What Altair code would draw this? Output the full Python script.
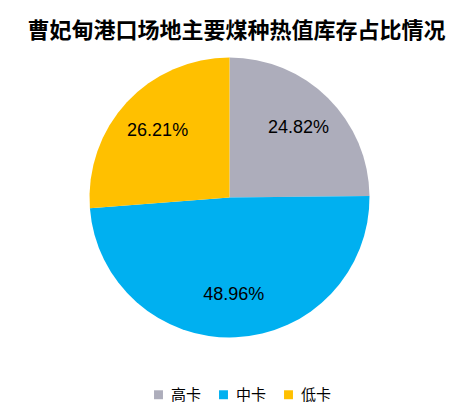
import altair as alt
import pandas as pd

categories = ["高卡", "中卡", "低卡"]
shares = [24.82, 48.96, 26.21]
colors = ["#ADADBB", "#00B0F0", "#FFC000"]
order_idx = [0, 1, 2]

df = pd.DataFrame({"cat": categories, "share": shares, "idx": order_idx})
df["label"] = [f"{v:.2f}%" for v in shares]

base = alt.Chart(df).encode(
    theta=alt.Theta("share:Q", stack=True),
    order=alt.Order("idx:Q"),
)

pie = base.mark_arc(outerRadius=140, stroke=None).encode(
    color=alt.Color(
        "cat:N",
        scale=alt.Scale(domain=categories, range=colors),
        sort=categories,
        legend=alt.Legend(
            title=None,
            orient="none",
            direction="horizontal",
            legendX=143,
            legendY=335,
            symbolType="square",
            symbolSize=80,
            symbolStrokeWidth=0,
            labelFontSize=15,
            labelFont="Noto Sans CJK SC",
            labelColor="#000000",
            labelOffset=5,
            columnPadding=14,
            padding=0,
        ),
    )
)

text = base.mark_text(
    radius=98,
    fontSize=18,
    font="Liberation Sans",
    color="#000000",
    align="center",
    baseline="middle",
).encode(text="label:N")

chart = (
    alt.layer(pie, text)
    .properties(
        width=443,
        height=291,
        autosize=alt.AutoSizeParams(type="none"),
        padding={"left": 0, "right": 0, "top": 44, "bottom": 60},
        title=alt.Title(
            "曹妃甸港口场地主要煤种热值库存占比情况",
            font="Noto Sans CJK SC",
            fontSize=22,
            fontWeight="bold",
            color="#000000",
            anchor="middle",
            offset=9,
            dx=7,
        ),
    )
    .configure_view(stroke=None)
    .configure(background="#ffffff")
)

chart.save("out.html", embed_options={"renderer": "svg", "actions": False})
